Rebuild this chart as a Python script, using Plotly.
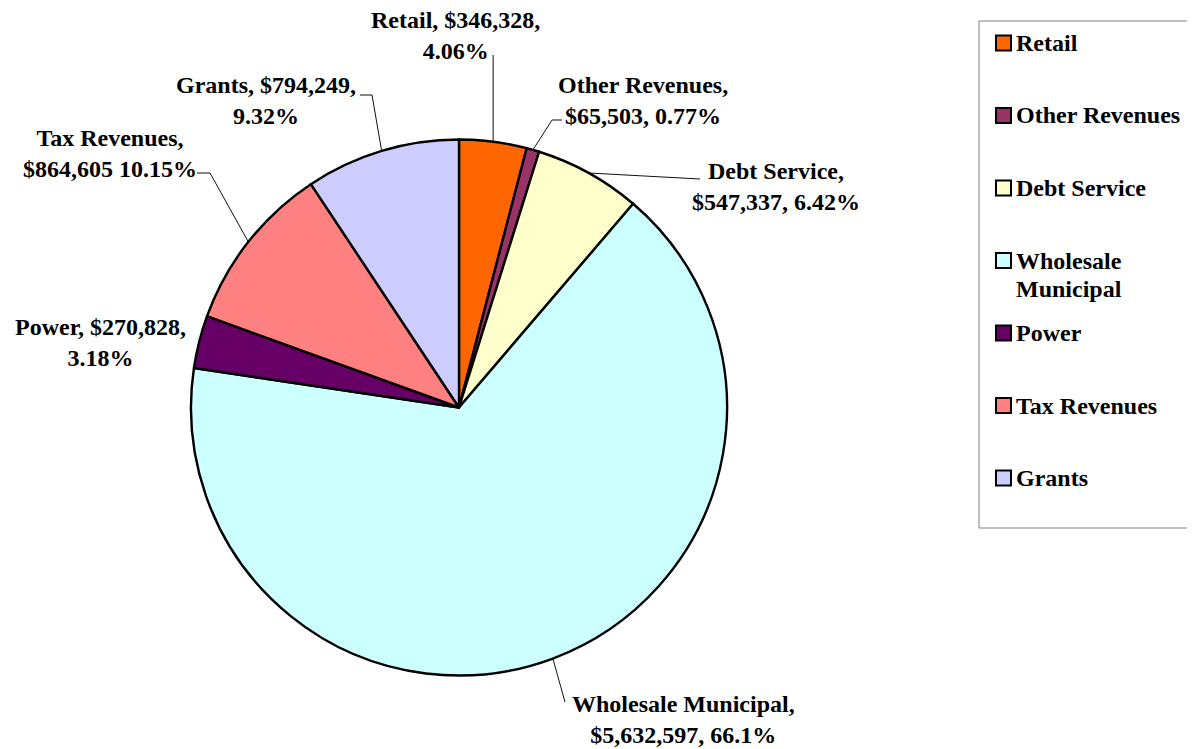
import math
import plotly.graph_objects as go

# ---------------- data ----------------
categories = ["Retail", "Other Revenues", "Debt Service", "Wholesale Municipal",
              "Power", "Tax Revenues", "Grants"]
values = [346328, 65503, 547337, 5632597, 270828, 864605, 794249]
data_labels = [
    "Retail, $346,328,<br>4.06%",
    "Other Revenues,<br>$65,503, 0.77%",
    "Debt Service,<br>$547,337, 6.42%",
    "Wholesale Municipal,<br>$5,632,597, 66.1%",
    "Power, $270,828,<br>3.18%",
    "Tax Revenues,<br>$864,605 10.15%",
    "Grants, $794,249,<br>9.32%",
]
legend_labels = ["Retail", "Other Revenues", "Debt Service", "Wholesale<br>Municipal",
                 "Power", "Tax Revenues", "Grants"]
colors = ["#FF6600", "#993366", "#FFFFCC", "#CCFFFF", "#660066", "#FF8080", "#CCCCFF"]

# ---------------- layout constants (page pixels) ----------------
OFF = 8                     # default page body margin
W, H = 1195 - OFF, 749 - OFF
CX, CY, R = 459, 407.5, 268          # pie centre / radius (page pixels)
FONT = "Liberation Serif"
LABEL_FS = 24
LEGEND_FS = 24
LEGEND_LINE = 28

# label block centres and leader-line waypoints (after the slice edge point)
label_pos = [(455, 35), (643, 101), (776, 186), (683, 719), (100, 343), (110, 154), (266, 101)]
leader_mid = [
    [("edge_x", 55)],
    [(552, 120), (562, 120)],
    [(700, 179)],
    [(565, 702)],
    None,
    [(210, 173), (197, 173)],
    [(372, 95), (360, 95)],
]

def px(x):
    return (x - OFF) / W

def py(y):
    return 1 - (y - OFF) / H

fig = go.Figure()
fig.add_trace(go.Pie(
    labels=categories, values=values, sort=False, direction="clockwise", rotation=0,
    marker=dict(colors=colors, line=dict(color="black", width=2.4)),
    textinfo="none", showlegend=False,
    domain=dict(x=[px(CX - R), px(CX + R)], y=[py(CY + R), py(CY - R)]),
))

shapes = []
annotations = []

# slice mid-angle edge points, computed from the data
total = sum(values)
cum = 0
for i, v in enumerate(values):
    mid = (cum + v / 2) / total * 2 * math.pi
    cum += v
    ex = CX + R * math.sin(mid)
    ey = CY - R * math.cos(mid)
    if leader_mid[i]:
        pts = [(ex, ey)]
        for (a, b) in leader_mid[i]:
            pts.append((ex if a == "edge_x" else a, b))
        for (x0, y0), (x1, y1) in zip(pts[:-1], pts[1:]):
            shapes.append(dict(type="line", xref="paper", yref="paper",
                               x0=px(x0), y0=py(y0), x1=px(x1), y1=py(y1),
                               line=dict(color="#111111", width=1)))
    lx, ly = label_pos[i]
    annotations.append(dict(
        text=data_labels[i], x=px(lx), y=py(ly), xref="paper", yref="paper",
        showarrow=False, xanchor="center", yanchor="middle", align="center",
        font=dict(family=FONT, size=LABEL_FS, color="black", weight="bold"),
    ))

# ---------------- manual legend ----------------
LEG_X0, LEG_Y0, LEG_X1, LEG_Y1 = 979, 21, 1194, 528
shapes.append(dict(type="rect", xref="paper", yref="paper",
                   x0=px(LEG_X0), y0=py(LEG_Y1), x1=px(LEG_X1), y1=py(LEG_Y0),
                   line=dict(color="#808080", width=1), fillcolor="rgba(0,0,0,0)"))
item_y = [43 + i * 72.5 for i in range(len(categories))]
SW = 15
for i, lab in enumerate(legend_labels):
    yc = item_y[i]
    shapes.append(dict(type="rect", xref="paper", yref="paper",
                       x0=px(996), x1=px(996 + SW), y0=py(yc + SW / 2), y1=py(yc - SW / 2),
                       line=dict(color="black", width=2), fillcolor=colors[i]))
    for k, line_txt in enumerate(lab.split("<br>")):
        annotations.append(dict(
            text=line_txt, x=px(1014), y=py(yc + k * LEGEND_LINE), xref="paper", yref="paper",
            showarrow=False, xanchor="left", yanchor="middle", align="left",
            font=dict(family=FONT, size=LEGEND_FS, color="black", weight="bold"),
        ))

fig.update_layout(
    width=W, height=H, margin=dict(l=0, r=0, t=0, b=0),
    paper_bgcolor="white", plot_bgcolor="white",
    shapes=shapes, annotations=annotations,
)

fig.write_html("out.html")
